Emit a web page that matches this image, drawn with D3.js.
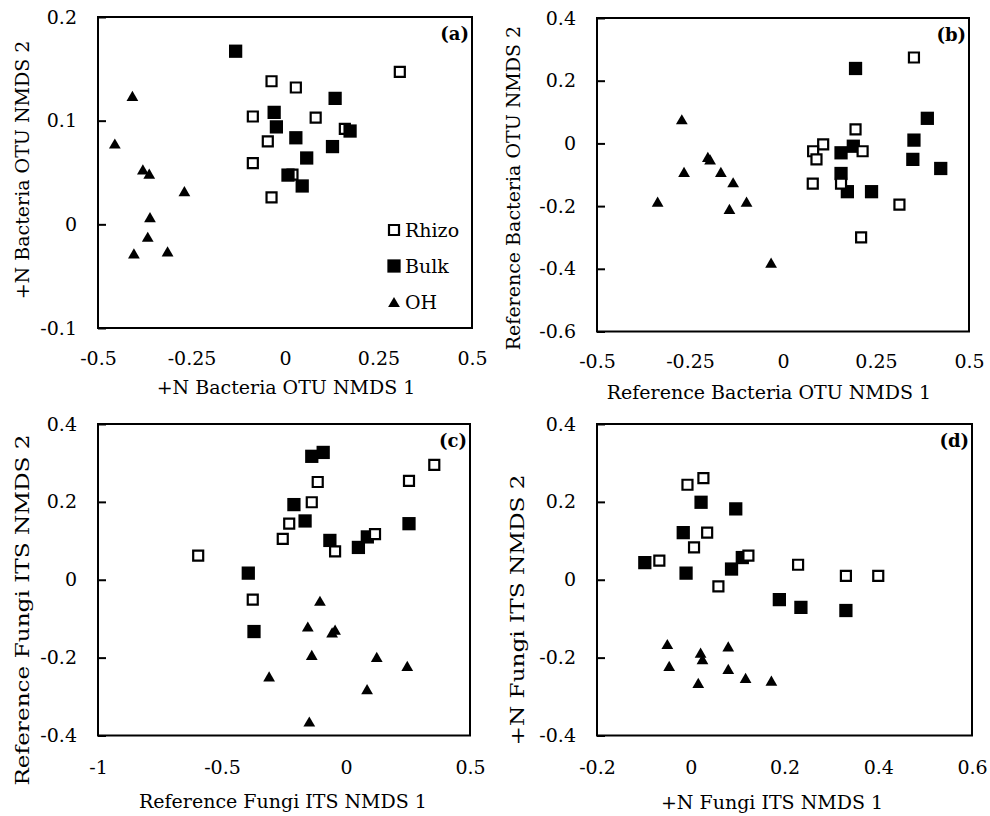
<!DOCTYPE html>
<html>
<head>
<meta charset="utf-8">
<script src="https://cdn.jsdelivr.net/npm/d3@7"></script>
<style>
  body { margin: 0; background: #fff; }
  svg { display: block; }
  text { font-family: "DejaVu Serif", "Liberation Serif", serif; fill: #000; }
</style>
</head>
<body>
<script>
// (a) +N bacteria OTU NMDS
const aRhizo = [[-0.036,0.138],[0.029,0.132],[0.307,0.147],[-0.086,0.104],[0.082,0.103],[0.160,0.092],[-0.046,0.080],[-0.086,0.059],[-0.036,0.026],[0.020,0.048]];
const aBulk = [[-0.132,0.167],[0.134,0.1215],[-0.029,0.108],[-0.023,0.094],[0.174,0.090],[0.029,0.0835],[0.127,0.075],[0.058,0.064],[0.008,0.0475],[0.046,0.037]];
const aOH = [[-0.408,0.124],[-0.455,0.078],[-0.380,0.053],[-0.363,0.049],[-0.269,0.032],[-0.361,0.007],[-0.367,-0.012],[-0.404,-0.028],[-0.314,-0.026]];

// (b) reference bacteria OTU NMDS
const bRhizo = [[0.352,0.274],[0.195,0.045],[0.108,-0.003],[0.081,-0.025],[0.090,-0.051],[0.214,-0.025],[0.080,-0.128],[0.156,-0.128],[0.313,-0.195],[0.210,-0.300]];
const bBulk = [[0.195,0.239],[0.388,0.080],[0.352,0.0105],[0.156,-0.030],[0.189,-0.009],[0.349,-0.051],[0.424,-0.080],[0.156,-0.096],[0.173,-0.154],[0.238,-0.154]];
const bOH = [[-0.272,0.077],[-0.202,-0.043],[-0.196,-0.051],[-0.266,-0.091],[-0.167,-0.091],[-0.134,-0.124],[-0.337,-0.186],[-0.144,-0.209],[-0.098,-0.186],[-0.032,-0.380]];

// (c) reference fungi ITS NMDS
const cRhizo = [[-0.596,0.062],[-0.376,-0.051],[-0.114,0.251],[-0.138,0.199],[-0.229,0.144],[-0.255,0.105],[-0.044,0.073],[0.117,0.117],[0.254,0.254],[0.356,0.295]];
const cBulk = [[-0.394,0.017],[-0.371,-0.133],[-0.138,0.317],[-0.092,0.327],[-0.210,0.193],[-0.165,0.151],[-0.065,0.101],[0.050,0.083],[0.086,0.110],[0.254,0.144]];
const cOH = [[-0.105,-0.054],[-0.154,-0.120],[-0.044,-0.128],[-0.056,-0.135],[-0.138,-0.193],[0.124,-0.198],[0.247,-0.221],[-0.310,-0.248],[0.085,-0.281],[-0.148,-0.364]];

// (d) +N fungi ITS NMDS
const dRhizo = [[-0.007,0.244],[0.027,0.261],[0.035,0.121],[0.007,0.083],[-0.067,0.049],[0.123,0.062],[0.059,-0.017],[0.229,0.0385],[0.331,0.010],[0.400,0.010]];
const dBulk = [[0.022,0.199],[0.096,0.182],[-0.016,0.121],[-0.098,0.044],[-0.010,0.017],[0.087,0.0275],[0.110,0.057],[0.189,-0.051],[0.235,-0.071],[0.331,-0.079]];
const dOH = [[-0.050,-0.165],[-0.046,-0.221],[0.021,-0.187],[0.025,-0.204],[0.080,-0.171],[0.080,-0.229],[0.016,-0.265],[0.117,-0.252],[0.172,-0.259]];

// ticks
const ticksBactX = [-0.5, -0.25, 0, 0.25, 0.5];
const labelsBactX = ["-0.5", "-0.25", "0", "0.25", "0.5"];
const ticksAY = [-0.1, 0, 0.1, 0.2];
const labelsAY = ["-0.1", "0", "0.1", "0.2"];
const ticksBY = [-0.6, -0.4, -0.2, 0, 0.2, 0.4];
const labelsBY = ["-0.6", "-0.4", "-0.2", "0", "0.2", "0.4"];
const ticksCX = [-1, -0.5, 0, 0.5];
const labelsCX = ["-1", "-0.5", "0", "0.5"];
const ticksDX = [-0.2, 0, 0.2, 0.4, 0.6];
const labelsDX = ["-0.2", "0", "0.2", "0.4", "0.6"];
const ticksFungiY = [-0.4, -0.2, 0, 0.2, 0.4];
const labelsFungiY = ["-0.4", "-0.2", "0", "0.2", "0.4"];

const legendNames = ["Rhizo", "Bulk", "OH"];

// triangle centred on its bounding box
const triangle = {
  draw(ctx, size) {
    const s = Math.sqrt(size * 4 / Math.sqrt(3));
    const h = s * Math.sqrt(3) / 2;
    ctx.moveTo(0, -h / 2);
    ctx.lineTo(s / 2, h / 2);
    ctx.lineTo(-s / 2, h / 2);
    ctx.closePath();
  }
};

const styles = {
  Rhizo: { type: d3.symbolSquare, size: 100, fill: "#fff", stroke: "#000", sw: 2.2 },
  Bulk: { type: d3.symbolSquare, size: 176, fill: "#000", stroke: "none", sw: 0 },
  OH: { type: triangle, size: 60, fill: "#000", stroke: "none", sw: 0 }
};

const panels = [
  { tag: "(a)", left: 98, right: 472, top: 17, bottom: 328,
    xDomain: [-0.5, 0.5], yDomain: [-0.1, 0.2],
    xTicks: ticksBactX, xLabels: labelsBactX, yTicks: ticksAY, yLabels: labelsAY,
    xTitle: "+N Bacteria OTU NMDS 1", yTitle: "+N Bacteria OTU NMDS 2",
    xTitleX: 286, xTitleDy: 66, yTitleX: 22, yTitleY: 170, yStretch: 1, tickDy: 37,
    series: [["Rhizo", aRhizo], ["Bulk", aBulk], ["OH", aOH]], legend: true },
  { tag: "(b)", left: 597, right: 969, top: 18, bottom: 331.5,
    xDomain: [-0.5, 0.5], yDomain: [-0.6, 0.4],
    xTicks: ticksBactX, xLabels: labelsBactX, yTicks: ticksBY, yLabels: labelsBY,
    xTitle: "Reference Bacteria OTU NMDS 1", yTitle: "Reference Bacteria OTU NMDS 2",
    xTitleX: 769, xTitleDy: 67, yTitleX: 513, yTitleY: 188, yStretch: 1, tickDy: 36,
    series: [["Bulk", bBulk], ["Rhizo", bRhizo], ["OH", bOH]] },
  { tag: "(c)", left: 98, right: 470, top: 424, bottom: 735.5,
    xDomain: [-1, 0.5], yDomain: [-0.4, 0.4],
    xTicks: ticksCX, xLabels: labelsCX, yTicks: ticksFungiY, yLabels: labelsFungiY,
    xTitle: "Reference Fungi ITS NMDS 1", yTitle: "Reference Fungi ITS NMDS 2",
    xTitleX: 283, xTitleDy: 72, yTitleX: 22, yTitleY: 610, yStretch: 1.22, tickDy: 38,
    series: [["Bulk", cBulk], ["Rhizo", cRhizo], ["OH", cOH]] },
  { tag: "(d)", left: 597, right: 972, top: 424, bottom: 735.5,
    xDomain: [-0.2, 0.6], yDomain: [-0.4, 0.4],
    xTicks: ticksDX, xLabels: labelsDX, yTicks: ticksFungiY, yLabels: labelsFungiY,
    xTitle: "+N Fungi ITS NMDS 1", yTitle: "+N Fungi ITS NMDS 2",
    xTitleX: 772, xTitleDy: 73, yTitleX: 517, yTitleY: 610, yStretch: 1.22, tickDy: 38,
    series: [["Bulk", dBulk], ["Rhizo", dRhizo], ["OH", dOH]] }
];

const fontSize = 19;

const svg = d3.select("body").append("svg")
  .attr("width", 990)
  .attr("height", 816);

panels.forEach(p => {
  const x = d3.scaleLinear(p.xDomain, [p.left, p.right]);
  const y = d3.scaleLinear(p.yDomain, [p.bottom, p.top]);
  const g = svg.append("g");

  // y axis, ticks pointing inward
  g.append("g")
    .attr("transform", "translate(" + p.left + ",0)")
    .call(d3.axisLeft(y)
      .tickValues(p.yTicks)
      .tickFormat((d, i) => p.yLabels[i])
      .tickSizeInner(-8)
      .tickSizeOuter(0)
      .tickPadding(21))
    .call(s => s.select(".domain").remove())
    .call(s => s.selectAll(".tick line").attr("stroke", "#000").attr("stroke-width", 2))
    .call(s => s.selectAll("text").attr("font-size", fontSize));

  // x axis, labels only
  g.append("g")
    .attr("transform", "translate(0," + p.bottom + ")")
    .call(d3.axisBottom(x)
      .tickValues(p.xTicks)
      .tickFormat((d, i) => p.xLabels[i])
      .tickSize(0)
      .tickPadding(p.tickDy))
    .call(s => s.select(".domain").remove())
    .call(s => s.selectAll("text").attr("dy", null).attr("font-size", fontSize));

  svg.selectAll("g").attr("font-family", null);

  // frame
  g.append("rect")
    .attr("x", p.left).attr("y", p.top)
    .attr("width", p.right - p.left).attr("height", p.bottom - p.top)
    .attr("fill", "none").attr("stroke", "#000").attr("stroke-width", 2);

  // points
  p.series.forEach(([name, pts]) => {
    const st = styles[name];
    g.append("g").selectAll("path")
      .data(pts)
      .enter().append("path")
      .attr("transform", d => "translate(" + x(d[0]) + "," + y(d[1]) + ")")
      .attr("d", d3.symbol(st.type, st.size))
      .attr("fill", st.fill)
      .attr("stroke", st.stroke)
      .attr("stroke-width", st.sw);
  });

  // panel tag
  g.append("text")
    .attr("x", p.right - 3)
    .attr("y", p.top + 23)
    .attr("text-anchor", "end")
    .attr("font-weight", "bold")
    .attr("font-size", 18)
    .text(p.tag);

  // axis titles
  g.append("text")
    .attr("x", p.xTitleX)
    .attr("y", p.bottom + p.xTitleDy)
    .attr("text-anchor", "middle")
    .attr("font-size", fontSize)
    .text(p.xTitle);

  g.append("text")
    .attr("transform", "translate(" + p.yTitleX + "," + p.yTitleY + ") rotate(-90) scale(" + p.yStretch + ",1)")
    .attr("text-anchor", "middle")
    .attr("dy", "0.35em")
    .attr("font-size", fontSize)
    .text(p.yTitle);

  // legend
  if (p.legend) {
    const lg = g.append("g").attr("transform", "translate(394,230)");
    legendNames.forEach((name, i) => {
      const st = styles[name];
      lg.append("path")
        .attr("transform", "translate(0," + (i * 36) + ")")
        .attr("d", d3.symbol(st.type, st.size))
        .attr("fill", st.fill)
        .attr("stroke", st.stroke)
        .attr("stroke-width", st.sw);
      lg.append("text")
        .attr("x", 11)
        .attr("y", i * 36)
        .attr("dy", "0.35em")
        .attr("font-size", fontSize)
        .text(name);
    });
  }
});
</script>
</body>
</html>
